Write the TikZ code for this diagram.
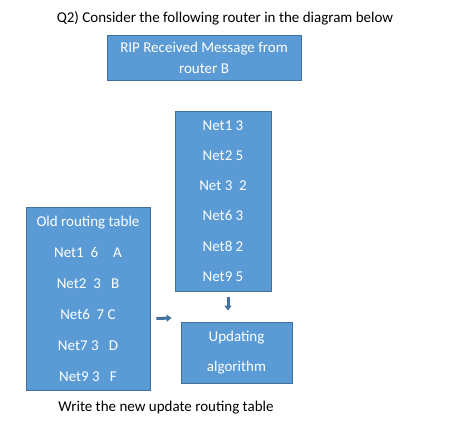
\documentclass[tikz,border=0pt]{standalone}
\usepackage{fontspec}
\setmainfont{Carlito}
\usepackage{xcolor}
\usetikzlibrary{positioning,arrows.meta}

\definecolor{boxfill}{HTML}{5B9BD5}
\definecolor{boxline}{HTML}{41719C}

\begin{document}
\begin{tikzpicture}[x=1pt, y=-1pt,
    every node/.style={font=\fontsize{15}{18}\selectfont},
    box/.style={draw=boxline, fill=boxfill, text=white, align=center, inner sep=0pt, line width=0.8pt},
    flow/.style={-{Triangle[width=7pt,length=5pt]}, draw=boxline, line width=3pt}]
                        \useasboundingbox (0,0) rectangle (459,424);
                        \node [font=\fontsize{15}{18}\selectfont] (title) at (225,18) {Q2) Consider the following router in the diagram below};
                        \node [box, minimum width=194pt, minimum height=45pt,
                               font=\fontsize{15}{21}\selectfont] (rip) at (204,57.5) {RIP Received Message from\\router B};
                        \node [box, minimum width=96pt, minimum height=180pt,
                               font=\fontsize{15}{30.2}\selectfont] (netb) at (223,201) {Net1 3\\Net2 5\\Net 3\ \ 2\\Net6 3\\Net8 2\\Net9 5};
                        \node [box, minimum width=124pt, minimum height=183pt,
                               font=\fontsize{15}{31}\selectfont] (old) at (88,298.5) {Old routing table\\Net1\ \ 6\quad A\\Net2\ \ 3\ \ \ B\\Net6\ \ 7 C\\Net7 3\ \ \ D\\Net9 3\ \ \ F};
                        \node [box, minimum width=111pt, minimum height=61pt,
                               font=\fontsize{15}{30}\selectfont] (upd) at (236.5,352.5) {Updating\\algorithm};
                        \node (task) at (166,408) {Write the new update routing table};

                        \draw [flow] ([xshift=5pt,yshift=-6pt]netb.south) -- ([xshift=-8.5pt,yshift=11pt]upd.north);
                        \draw [flow] ([xshift=6pt,yshift=-20pt]old.east) -- ([xshift=-9pt,yshift=34.5pt]upd.west);
                    \end{tikzpicture}
\end{document}
